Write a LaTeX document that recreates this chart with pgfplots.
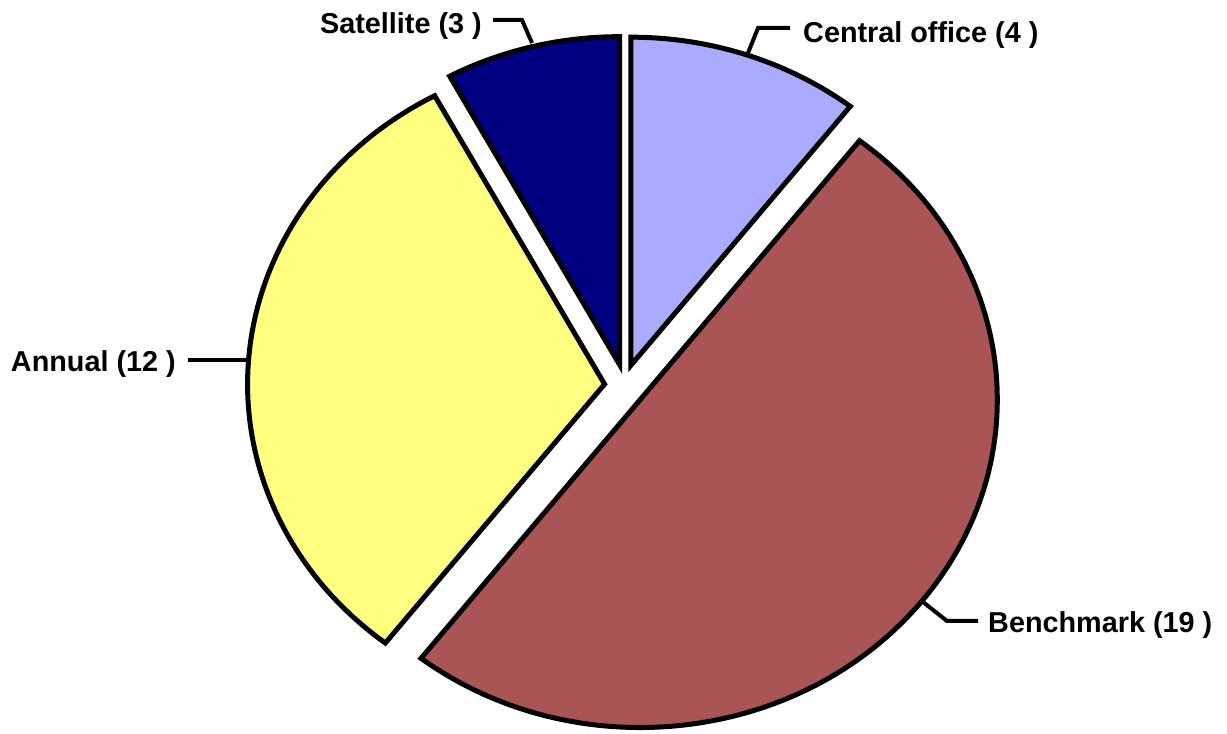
\documentclass[border=0pt]{standalone}
\usepackage{fontspec}
\setmainfont{Liberation Sans}
\usepackage{pgfplots}
\usepackage{pgfplotstable}
\pgfplotsset{compat=1.18}

\definecolor{central}{RGB}{170,170,255}
\definecolor{bench}{RGB}{170,85,85}
\definecolor{annual}{RGB}{255,255,128}
\definecolor{satel}{RGB}{0,0,128}

% slice values, clockwise from 12 o'clock
\pgfplotstableread{
label value
Central 4
Benchmark 19
Annual 12
Satellite 3
}\pietable

% pie geometry (pt = image px)
\def\cx{624.5}\def\cy{348}
\def\rx{357}\def\ry{328}
\def\ex{20}\def\ey{22}

\newcommand\pieslice[3]{%
  \pgfmathsetmacro\mid{(#1+#2)/2}%
  \pgfmathsetmacro\vx{\cx+\ex*cos(\mid)}%
  \pgfmathsetmacro\vy{\cy+\ey*sin(\mid)}%
  \pgfmathsetmacro\sx{\vx+\rx*cos(#1)}%
  \pgfmathsetmacro\sy{\vy+\ry*sin(#1)}%
  \filldraw[fill=#3, draw=black, line width=5pt, line join=miter]
    (axis cs:\vx,\vy) -- (axis cs:\sx,\sy)
    arc[start angle=#1, end angle=#2, x radius=\rx pt, y radius=\ry pt] -- cycle;
}

\newcommand\labfont{\bfseries\fontsize{28.8}{34}\selectfont}

\begin{document}
\begin{tikzpicture}
\pgfplotstablegetelem{0}{value}\of\pietable \edef\vA{\pgfplotsretval}
\pgfplotstablegetelem{1}{value}\of\pietable \edef\vB{\pgfplotsretval}
\pgfplotstablegetelem{2}{value}\of\pietable \edef\vC{\pgfplotsretval}
\pgfplotstablegetelem{3}{value}\of\pietable \edef\vD{\pgfplotsretval}
\pgfmathsetmacro\total{\vA+\vB+\vC+\vD}
\pgfmathsetmacro\aA{90}
\pgfmathsetmacro\aB{\aA-360*\vA/\total}
\pgfmathsetmacro\aC{\aB-360*\vB/\total}
\pgfmathsetmacro\aD{\aC-360*\vC/\total}
\pgfmathsetmacro\aE{\aD-360*\vD/\total}
\begin{axis}[
  x=1pt, y=1pt,
  xmin=0, xmax=1227, ymin=0, ymax=734,
  hide axis, clip=false]
  \pgfplotsextra{\pieslice{\aA}{\aB}{central}}
  \pgfplotsextra{\pieslice{\aB}{\aC}{bench}}
  \pgfplotsextra{\pieslice{\aC}{\aD}{annual}}
  \pgfplotsextra{\pieslice{\aD}{\aE}{satel}}
  % leader lines
  \draw[line width=4pt] (axis cs:748,681) -- (axis cs:758,706) -- (axis cs:790,706);
  \draw[line width=4pt] (axis cs:923,132) -- (axis cs:947,113) -- (axis cs:978,113);
  \draw[line width=4pt] (axis cs:249,374) -- (axis cs:188,374);
  \draw[line width=4pt] (axis cs:532,691) -- (axis cs:522,714) -- (axis cs:493,714);
  % labels
  \node[anchor=base west, inner sep=0pt, font=\labfont] at (axis cs:803,691) {Central office (\vA\ )};
  \node[anchor=base west, inner sep=0pt, font=\labfont] at (axis cs:988,101) {Benchmark (\vB\ )};
  \node[anchor=base east, inner sep=0pt, font=\labfont] at (axis cs:176,362) {Annual (\vC\ )};
  \node[anchor=base east, inner sep=0pt, font=\labfont] at (axis cs:482,700) {Satellite (\vD\ )};
\end{axis}
\pgfresetboundingbox
\path (current axis.south west) rectangle (current axis.north east);
\end{tikzpicture}
\end{document}
